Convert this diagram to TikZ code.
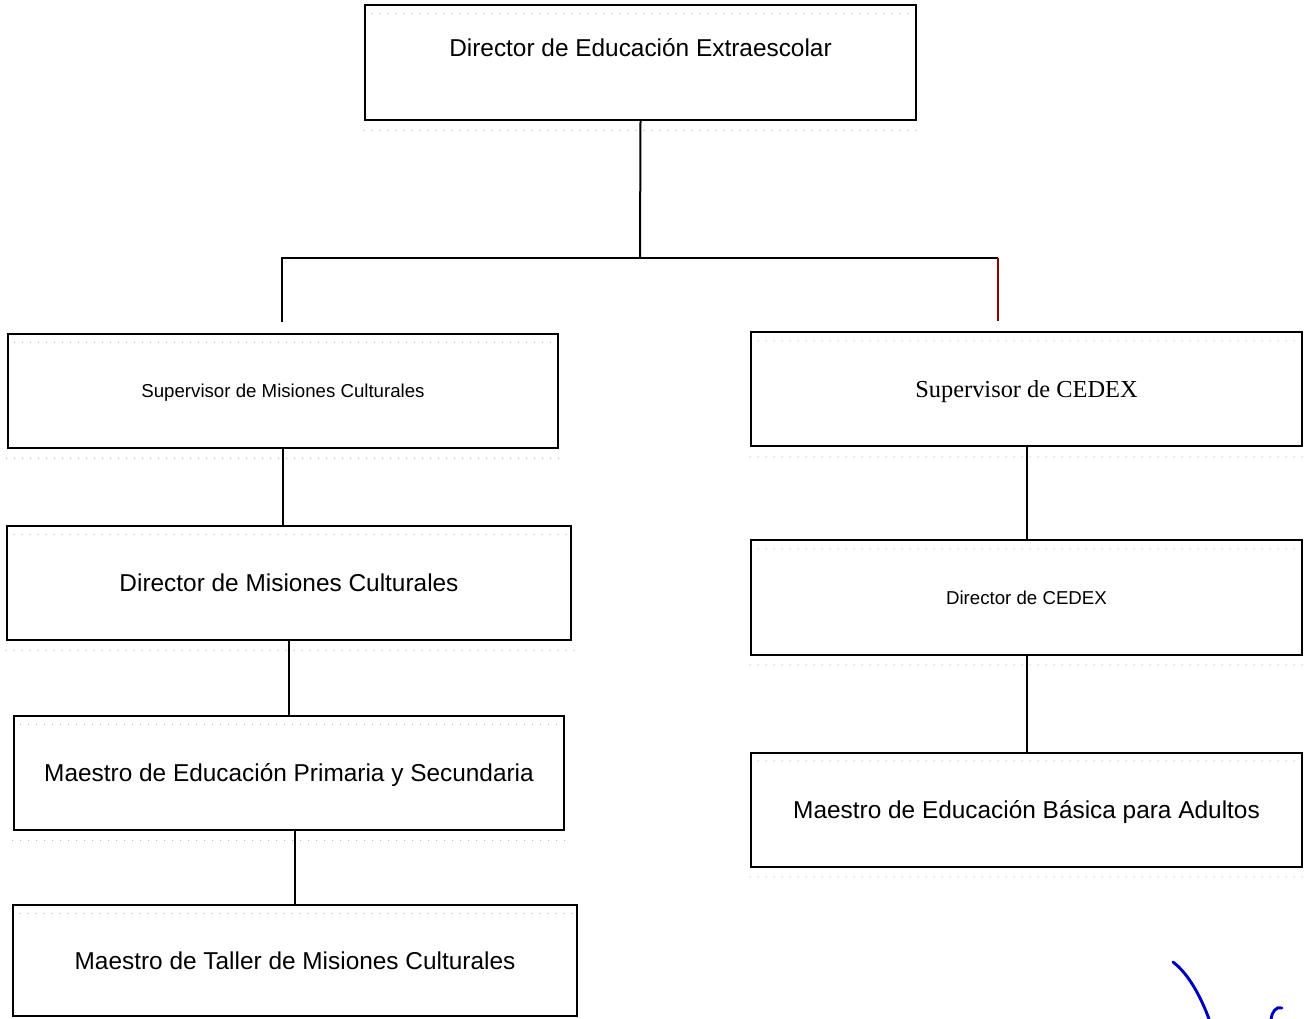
\documentclass[tikz,border=0pt]{standalone}
\usepackage{fontspec}
\setmainfont{Liberation Sans}
\newfontfamily\timesfont{Liberation Serif}

\begin{document}
\begin{tikzpicture}[x=0.75pt, y=-0.75pt,
    box/.style={draw, line width=1.5pt, minimum width=413pt, minimum height=85.5pt, inner sep=0pt,
        text height=13pt, text depth=0pt, font=\fontsize{18.3}{22}\selectfont},
    smalltext/.style={font=\fontsize{14}{17}\selectfont, text height=10pt},
    link/.style={line width=1.5pt},
    grid/.style={gray!60, line width=0.9pt, line cap=round, dash pattern=on 0pt off 6pt}]
    \useasboundingbox (0,0) rectangle (1307,1019);
    % boxes
    \node[box, text depth=22pt, minimum height=86.25pt] (dir) at (640.5,62.5) {Director de Educación Extraescolar};
    \node[box, smalltext] (supmc) at (283,391) {Supervisor de Misiones Culturales};
    \node[box, font=\timesfont\fontsize{18.3}{22}\selectfont, text height=12pt] (supcx) at (1026.5,389.5) {Supervisor de CEDEX};
    \node[box, minimum width=423pt] (dirmc) at (289,583) {Director de Misiones Culturales};
    \node[box, smalltext] (dircx) at (1026.5,597.5) {Director de CEDEX};
    \node[box] (maeps) at (289,773) {Maestro de Educación Primaria y Secundaria};
    \node[box] (maeba) at (1026.5,809.5) {Maestro de Educación Básica para Adultos};
    \node[box, minimum width=423pt, minimum height=83pt] (maetl) at (295,960.5) {Maestro de Taller de Misiones Culturales};
    % faint dotted frames
    \foreach \n in {dir,supmc,supcx,dirmc,dircx,maeps,maeba,maetl} {
        \draw[grid] ([yshift=-7pt]\n.south west) -- ([yshift=-7pt, xshift=3pt]\n.south east);
        \draw[grid] ([yshift=-7pt, xshift=6pt]\n.north west) -- ([yshift=-7pt, xshift=-4pt]\n.north east);
    }
    % connectors
    \coordinate (bar) at (640,258);
    \coordinate (lend) at (282,322);
    \coordinate (rend) at (998,321);
    \draw[link] (dir.south) -- (bar);
    \draw[link] (lend) |- (bar) -- (bar -| rend);
    \draw[link, red!55!black] (bar -| rend) -- (rend);
    \draw[link] (supmc.south) -- (supmc.south |- dirmc.north);
    \draw[link] (dirmc.south) -- (maeps.north);
    \draw[link] (maetl.north |- maeps.south) -- (maetl.north);
    \draw[link] (supcx.south) -- (dircx.north);
    \draw[link] (dircx.south) -- (maeba.north);
    % signature
    \draw[blue!75!black, line width=2.2pt, line cap=round] (1173,962) .. controls (1190,975) and (1202,1000) .. (1209,1019);
    \draw[blue!75!black, line width=2.2pt, line cap=round] (1271,1019) .. controls (1272,1012) and (1276,1006) .. (1282,1008);
\end{tikzpicture}
\end{document}
